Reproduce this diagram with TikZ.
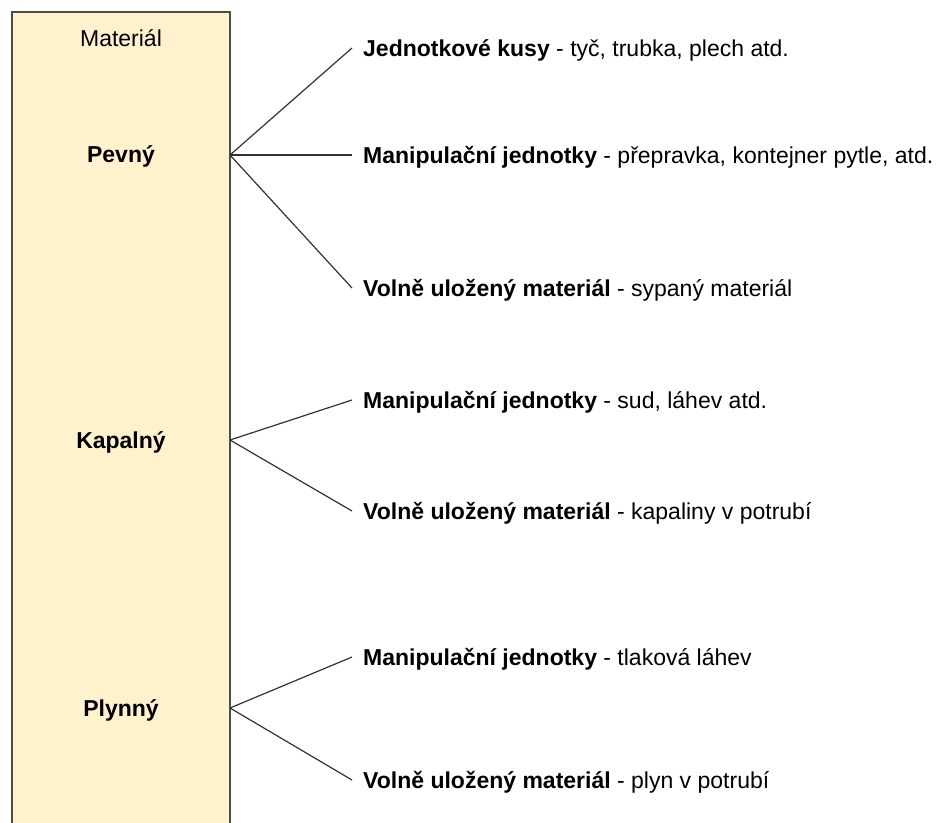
\documentclass[tikz,border=0pt]{standalone}
\usepackage{fontspec}
\setmainfont{Liberation Sans}
\definecolor{panelfill}{HTML}{FFF2CC}
\definecolor{panelline}{HTML}{4D4D4D}
\definecolor{linkline}{HTML}{333333}
\begin{document}
\begin{tikzpicture}[x=1pt,y=-1pt,
  font=\fontsize{23}{27}\selectfont,
  panel/.style={fill=panelfill,draw=panelline,line width=1.3pt},
  caption/.style={inner sep=0pt,text height=16.5pt,text depth=0pt,anchor=center},
  category/.style={caption,font=\fontsize{23}{27}\selectfont\bfseries},
  item/.style={anchor=west,inner xsep=11pt,inner ysep=0pt,text height=16.5pt,text depth=0pt},
  link/.style={draw=linkline,line width=1.2pt}]
\useasboundingbox (0,0) rectangle (937,822);
\clip (0,0) rectangle (937,822);

% material column
\draw[panel] (12,12) rectangle (230,840);
\node[caption] (mat) at (121,38.5) {Materiál};
\node[category] (pevny) at (121,154) {Pevný};
\node[category] (kapalny) at (121,440) {Kapalný};
\node[category] (plynny) at (121,708) {Plynný};

% branch points on the right edge of the column
\coordinate (pevnyR) at (230,155);
\coordinate (kapalnyR) at (230,440);
\coordinate (plynnyR) at (230,708);

% solid
\node[item] (p1) at (352,48) {\textbf{Jednotkové kusy} - tyč, trubka, plech atd.};
\node[item] (p2) at (352,155) {\textbf{Manipulační jednotky} - přepravka, kontejner pytle, atd.};
\node[item] (p3) at (352,288) {\textbf{Volně uložený materiál} - sypaný materiál};
% liquid
\node[item] (k1) at (352,400) {\textbf{Manipulační jednotky} - sud, láhev atd.};
\node[item] (k2) at (352,511) {\textbf{Volně uložený materiál} - kapaliny v potrubí};
% gas
\node[item] (g1) at (352,657) {\textbf{Manipulační jednotky} - tlaková láhev};
\node[item] (g2) at (352,780) {\textbf{Volně uložený materiál} - plyn v potrubí};

\draw[link] (pevnyR) -- (p1.west);
\draw[link] (pevnyR) -- (p2.west);
\draw[link] (pevnyR) -- (p3.west);
\draw[link] (kapalnyR) -- (k1.west);
\draw[link] (kapalnyR) -- (k2.west);
\draw[link] (plynnyR) -- (g1.west);
\draw[link] (plynnyR) -- (g2.west);
\end{tikzpicture}
\end{document}
